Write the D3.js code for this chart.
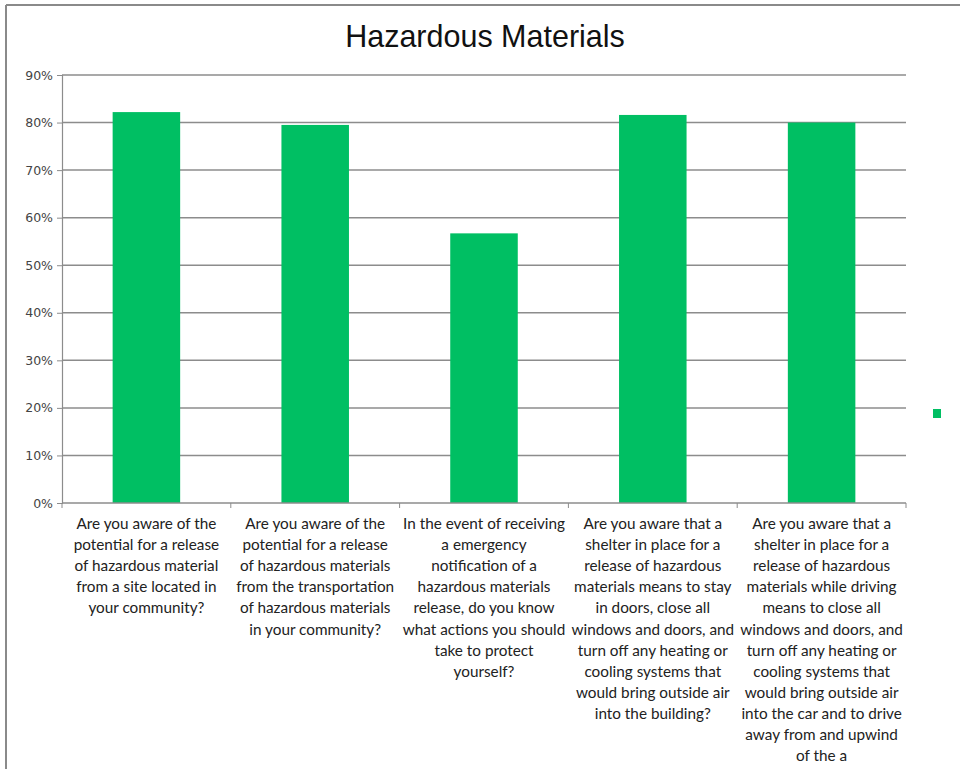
<!DOCTYPE html>
<html><head><meta charset="utf-8">
<script src="https://cdn.jsdelivr.net/npm/d3@7"></script>
<style>body{margin:0;background:#fff;}svg{display:block;}</style>
</head><body>
<script>
const categories = [
  "Are you aware of the potential for a release of hazardous material from a site located in your community?",
  "Are you aware of the potential for a release of hazardous materials from the transportation of hazardous materials in your community?",
  "In the event of receiving a emergency notification of a hazardous materials release, do you know what actions you should take to protect yourself?",
  "Are you aware that a shelter in place for a release of hazardous materials means to stay in doors, close all windows and doors, and turn off any heating or cooling systems that would bring outside air into the building?",
  "Are you aware that a shelter in place for a release of hazardous materials while driving means to close all windows and doors, and turn off any heating or cooling systems that would bring outside air into the car and to drive away from and upwind of the a"
];
const labelLines = [
  ["Are you aware of the","potential for a release","of hazardous material","from a site located in","your community?"],
  ["Are you aware of the","potential for a release","of hazardous materials","from the transportation","of hazardous materials","in your community?"],
  ["In the event of receiving","a emergency","notification of a","hazardous materials","release, do you know","what actions you should","take to protect","yourself?"],
  ["Are you aware that a","shelter in place for a","release of hazardous","materials means to stay","in doors, close all","windows and doors, and","turn off any heating or","cooling systems that","would bring outside air","into the building?"],
  ["Are you aware that a","shelter in place for a","release of hazardous","materials while driving","means to close all","windows and doors, and","turn off any heating or","cooling systems that","would bring outside air","into the car and to drive","away from and upwind","of the a"]
];
const values = [0.822, 0.795, 0.567, 0.816, 0.800];
const yTicks = [0,0.1,0.2,0.3,0.4,0.5,0.6,0.7,0.8,0.9];
const title = "Hazardous Materials";

(function(){
const W = 960, H = 769;
const svg = d3.select("body").append("svg").attr("width", W).attr("height", H);
// outer frame (top and left edges visible)
svg.append("line").attr("x1",6).attr("x2",W).attr("y1",5).attr("y2",5).attr("stroke","#8a8a8a").attr("stroke-width",2);
svg.append("line").attr("x1",6).attr("x2",6).attr("y1",5).attr("y2",H).attr("stroke","#8a8a8a").attr("stroke-width",2);

const mL = 62, mR = 906, mT = 75, mB = 503;
const x = d3.scaleBand().domain(categories).range([mL, mR]).paddingInner(0.6).paddingOuter(0.3);
const xb = d3.scaleBand().domain(categories).range([mL, mR]);
const y = d3.scaleLinear().domain([0, 0.9]).range([mB, mT]);

svg.append("text").attr("x", 485).attr("y", 47).attr("text-anchor","middle")
  .attr("font-family","'Liberation Sans',Arial,sans-serif").attr("font-size",30.5)
  .attr("fill","#111").text(title);

svg.append("g").selectAll("line").data(yTicks.filter(d=>d>0)).join("line")
  .attr("x1", mL).attr("x2", mR).attr("y1", d=>y(d)).attr("y2", d=>y(d))
  .attr("stroke","#8c8c8c").attr("stroke-width",1.5);

const yAxis = d3.axisLeft(y).tickValues(yTicks).tickFormat(d3.format(".0%")).tickSize(5).tickPadding(4);
const gy = svg.append("g").attr("transform",`translate(${mL},0)`).call(yAxis);
gy.select(".domain").attr("stroke","#8c8c8c").attr("stroke-width",1.2);
gy.selectAll(".tick line").attr("stroke","#8c8c8c");
gy.selectAll("text").attr("font-family","'DejaVu Sans',Verdana,sans-serif").attr("font-size",12.5).attr("fill","#444");

svg.append("g").selectAll("rect").data(values).join("rect")
  .attr("x",(d,i)=>x(categories[i])).attr("width",x.bandwidth())
  .attr("y",d=>y(d)).attr("height",d=>mB-y(d)).attr("fill","#00BF63");

const gx = svg.append("g").attr("transform",`translate(0,${mB})`);
gx.append("line").attr("x1",mL).attr("x2",mR).attr("stroke","#8c8c8c").attr("stroke-width",1.5);
const bounds = categories.map(c=>xb(c)).concat([mR]);
gx.selectAll("line.tk").data(bounds).join("line").attr("class","tk")
  .attr("x1",d=>d).attr("x2",d=>d).attr("y1",0).attr("y2",5).attr("stroke","#8c8c8c");

const lab = svg.append("g").attr("font-family","Lato,'Open Sans',sans-serif").attr("font-size",15.3).attr("fill","#222");
labelLines.forEach((lines,i)=>{
  const cx = xb(categories[i]) + xb.bandwidth()/2;
  const t = lab.append("text").attr("text-anchor","middle").attr("x",cx).attr("y",529);
  lines.forEach((l,j)=>t.append("tspan").attr("x",cx).attr("dy", j===0?0:21.1).text(l));
});

svg.append("rect").attr("x",933).attr("y",409).attr("width",8).attr("height",9).attr("fill","#00BF63");
})();
</script>
</body></html>
